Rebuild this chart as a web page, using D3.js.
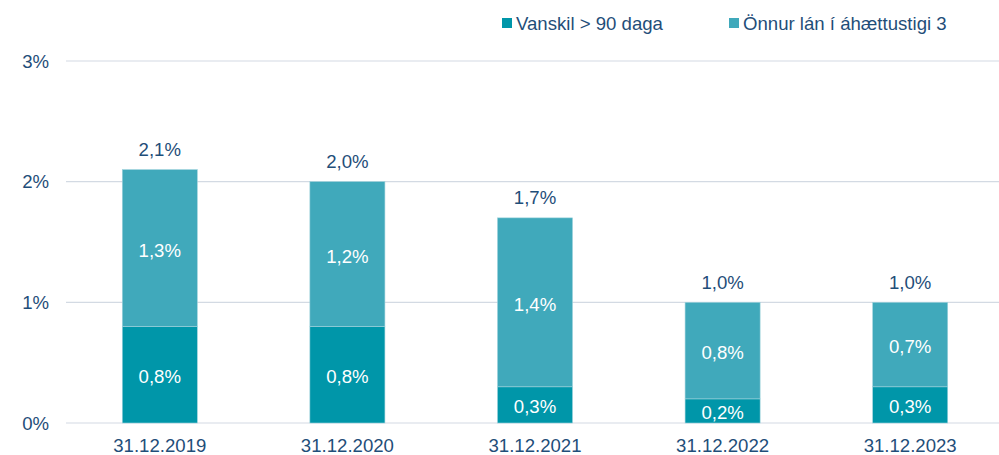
<!DOCTYPE html>
<html>
<head>
<meta charset="utf-8">
<script src="https://cdn.jsdelivr.net/npm/d3@7"></script>
<style>
  body { margin: 0; background: #fff; }
  svg { display: block; font-family: 'Liberation Sans', Arial, sans-serif; }
</style>
</head>
<body>
<div id="chart"></div>
<script>
const categories = ['31.12.2019', '31.12.2020', '31.12.2021', '31.12.2022', '31.12.2023']
const vanskil = [0.8, 0.8, 0.3, 0.2, 0.3]
const onnur = [1.3, 1.2, 1.4, 0.8, 0.7]
const totals = [2.1, 2.0, 1.7, 1.0, 1.0]
const yTicks = [0, 1, 2, 3]
const seriesNames = ['Vanskil > 90 daga', 'Önnur lán í áhættustigi 3']

const width = 999
const height = 455
const margin = { top: 61, right: -5, bottom: 32, left: 66 }
const textColor = '#1f4e79'
const colors = ['#0096a9', '#40a9bb']
const fontSize = 18.6

const fmt = v => v.toFixed(1).replace('.', ',') + '%'

const svg = d3.select('#chart')
  .append('svg')
  .attr('width', width)
  .attr('height', height)

const x = d3.scaleBand()
  .domain(categories)
  .range([margin.left, width - margin.right])
  .paddingInner(0.6)
  .paddingOuter(0.3)

const y = d3.scaleLinear()
  .domain([0, 3])
  .range([height - margin.bottom, margin.top])

// gridlines
svg.append('g')
  .selectAll('line')
  .data(yTicks)
  .join('line')
  .attr('x1', margin.left)
  .attr('x2', width - margin.right)
  .attr('y1', d => y(d))
  .attr('y2', d => y(d))
  .attr('stroke', '#d3dae3')
  .attr('stroke-width', 1.2)

// y axis labels
svg.append('g')
  .selectAll('text')
  .data(yTicks)
  .join('text')
  .attr('x', 49)
  .attr('y', d => y(d))
  .attr('dy', '0.35em')
  .attr('text-anchor', 'end')
  .attr('font-size', fontSize)
  .attr('fill', textColor)
  .text(d => d + '%')

const stackData = categories.map((c, i) => ({ cat: c, vanskil: vanskil[i], onnur: onnur[i] }))
const series = d3.stack().keys(['vanskil', 'onnur'])(stackData)

const groups = svg.append('g')
  .selectAll('g')
  .data(series)
  .join('g')
  .attr('fill', (d, i) => colors[i])

groups.selectAll('rect')
  .data(d => d)
  .join('rect')
  .attr('x', d => x(d.data.cat))
  .attr('width', x.bandwidth())
  .attr('y', d => y(d[1]))
  .attr('height', d => y(d[0]) - y(d[1]))
  .attr('stroke', '#9fd3dc')
  .attr('stroke-width', 0.6)

groups.selectAll('text')
  .data(d => d)
  .join('text')
  .attr('x', d => x(d.data.cat) + x.bandwidth() / 2)
  .attr('y', d => (y(d[0]) + y(d[1])) / 2 + 2)
  .attr('dy', '0.35em')
  .attr('text-anchor', 'middle')
  .attr('font-size', fontSize)
  .attr('fill', '#ffffff')
  .text(d => fmt(d[1] - d[0]))

// totals
svg.append('g')
  .selectAll('text')
  .data(categories)
  .join('text')
  .attr('x', d => x(d) + x.bandwidth() / 2)
  .attr('y', (d, i) => y(totals[i]) - 20)
  .attr('dy', '0.35em')
  .attr('text-anchor', 'middle')
  .attr('font-size', fontSize)
  .attr('fill', textColor)
  .text((d, i) => fmt(totals[i]))

// x axis labels
svg.append('g')
  .selectAll('text')
  .data(categories)
  .join('text')
  .attr('x', d => x(d) + x.bandwidth() / 2)
  .attr('y', 445)
  .attr('dy', '0.35em')
  .attr('text-anchor', 'middle')
  .attr('font-size', fontSize)
  .attr('fill', textColor)
  .text(d => d)

// legend
const legendX = [502, 729]
const legend = svg.append('g')
  .selectAll('g')
  .data(seriesNames)
  .join('g')
  .attr('transform', (d, i) => `translate(${legendX[i]},18)`)

legend.append('rect')
  .attr('width', 10)
  .attr('height', 10)
  .attr('fill', (d, i) => colors[i])

legend.append('text')
  .attr('x', 14)
  .attr('y', 5)
  .attr('dy', '0.35em')
  .attr('font-size', fontSize)
  .attr('fill', textColor)
  .text(d => d)
</script>
</body>
</html>
